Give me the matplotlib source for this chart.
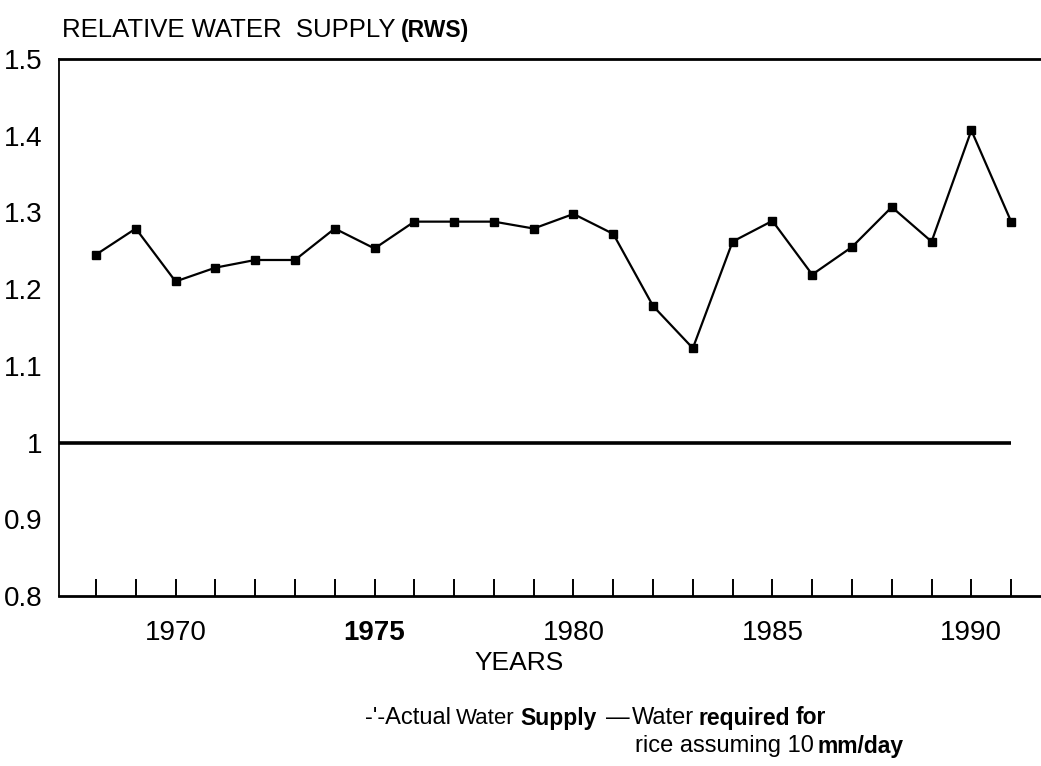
import matplotlib
matplotlib.use('Agg')
import matplotlib.pyplot as plt

"------------------DATA"
years = list(range(1968, 1992))
rws = [1.245, 1.279, 1.210, 1.228, 1.238, 1.238, 1.279, 1.253,
       1.288, 1.288, 1.288, 1.279, 1.298, 1.272, 1.178, 1.123,
       1.262, 1.289, 1.219, 1.255, 1.307, 1.262, 1.407, 1.288]
required = 1.0
ytick_vals = [0.8, 0.9, 1.0, 1.1, 1.2, 1.3, 1.4, 1.5]
ytick_labels = ['0.8', '0.9', '1', '1.1', '1.2', '1.3', '1.4', '1.5']
xtick_labels = [1970, 1975, 1980, 1985, 1990]
"----------------------"

plt.rcParams['font.family'] = ['Liberation Sans', 'DejaVu Sans']

W, H = 1041, 766
fig = plt.figure(figsize=(W/100, H/100), dpi=100)
ax = fig.add_axes([59/W, 1-596/H, 1-59/W, (596-59)/H])

ax.plot(years, rws, color='black', lw=1.6, marker='s', ms=5.5)
xleft = 1967.07
ax.hlines(required, xleft, years[-1], color='black', lw=2.6)

ax.set_xlim(xleft, 1991.75)
ax.set_ylim(0.8, 1.5)

ax.spines['right'].set_visible(False)
ax.spines['left'].set_linewidth(1.3)
ax.spines['top'].set_linewidth(2.0)
ax.spines['bottom'].set_linewidth(2.0)

# every year gets an inward tick, only the 5-year ones get labels
ax.set_xticks(years)
ax.set_xticklabels([str(y) if y in xtick_labels else '' for y in years])
ax.tick_params(axis='x', direction='in', length=12, width=1.4, pad=17, labelsize=20)
for lab in ax.get_xticklabels():
    if lab.get_text() == '1975':
        lab.set_fontweight('bold')
ax.set_yticks(ytick_vals)
ax.set_yticklabels(ytick_labels)
ax.tick_params(axis='y', length=0, pad=12, labelsize=20)

renderer = fig.canvas.get_renderer()

def chain(x, y, parts):
    # put text pieces one after the other, starting at pixel x (from left), y (from top)
    for txt, weight, size, gap in parts:
        t = fig.text(x/W, 1-y/H, txt, fontsize=size, fontweight=weight, va='center', ha='left')
        x = x + t.get_window_extent(renderer).width + gap

chain(62, 30, [('RELATIVE WATER  SUPPLY', 'normal', 18.5, 5), ('(RWS)', 'bold', 16.5, 0)])

fig.text(519/W, 1-663/H, 'YEARS', fontsize=19, va='center', ha='center')

# legend text
chain(365, 718, [("-'-Actual", 'normal', 17, 5), ('Water', 'normal', 16, 6),
                 ('Supply', 'bold', 16.5, 9), ('\u2014', 'normal', 17, 2),
                 ('Water', 'normal', 17, 5), ('required', 'bold', 16.5, 5), ('for', 'bold', 16.5, 0)])
chain(635, 746, [('rice assuming 10', 'normal', 17, 4), ('mm/day', 'bold', 16.5, 0)])

fig.savefig('out.png', dpi=100)
